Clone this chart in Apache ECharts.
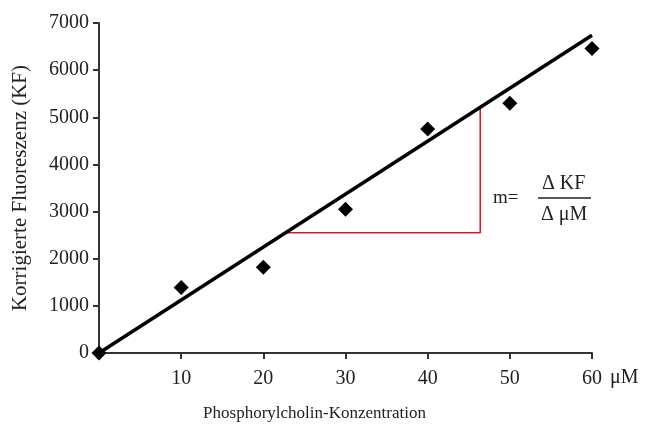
<!DOCTYPE html>
<html>
<head>
<meta charset="utf-8">
<script src="https://cdn.jsdelivr.net/npm/echarts@6/dist/echarts.min.js"></script>
<style>
  html, body { margin: 0; padding: 0; background: #fff; }
  #chart { width: 645px; height: 428px; }
</style>
</head>
<body>
<div id="chart"></div>
<script>
// Messpunkte
const konzentration = [0, 10, 20, 30, 40, 50, 60];
const fluoreszenz = [0, 1390, 1820, 3050, 4750, 5300, 6460];
// Regressionsgerade (Start- und Endpunkt)
const geradeX = [0, 60];
const geradeY = [0, 6740];
// Steigungsdreieck
const dreieckX = [22.8, 46.4, 46.4];
const dreieckY = [2550, 2550, 5180];

const font = '"Liberation Serif", "DejaVu Serif", serif';
const chart = echarts.init(document.getElementById('chart'));

const option = {
    animation: false,
    textStyle: { fontFamily: font },
    grid: { left: 99, right: 53, top: 23, bottom: 75 },
    xAxis: {
        type: 'value',
        min: 0,
        max: 60,
        interval: 10,
        name: 'Phosphorylcholin-Konzentration',
        nameLocation: 'middle',
        nameGap: 52,
        nameTextStyle: { fontFamily: font, fontSize: 17, color: '#222', padding: [0, 62, 0, 0] },
        axisLine: { lineStyle: { color: '#333', width: 2 } },
        axisTick: { length: 6, lineStyle: { color: '#333', width: 2 } },
        axisLabel: {
            fontFamily: font, fontSize: 20, color: '#222', margin: 16,
            formatter: v => (v === 0 ? '' : String(v))
        },
        splitLine: { show: false }
    },
    yAxis: {
        type: 'value',
        min: 0,
        max: 7000,
        interval: 1000,
        name: 'Korrigierte Fluoreszenz (KF)',
        nameLocation: 'middle',
        nameGap: 68,
        nameTextStyle: { fontFamily: font, fontSize: 21, color: '#222' },
        axisLine: { show: true, lineStyle: { color: '#333', width: 2 } },
        axisTick: { show: true, length: 6, lineStyle: { color: '#333', width: 2 } },
        axisLabel: {
            fontFamily: font, fontSize: 20, color: '#222', margin: 10,
            formatter: v => String(v)
        },
        splitLine: { show: false }
    },
    series: [
        {
            type: 'line',
            data: geradeX.map((x, i) => [x, geradeY[i]]),
            symbol: 'none',
            lineStyle: { color: '#000', width: 3.5 },
            z: 3
        },
        {
            type: 'line',
            data: dreieckX.map((x, i) => [x, dreieckY[i]]),
            symbol: 'none',
            lineStyle: { color: '#cc1f24', width: 1.6 },
            z: 2
        },
        {
            type: 'scatter',
            data: konzentration.map((x, i) => [x, fluoreszenz[i]]),
            symbol: 'diamond',
            symbolSize: [15, 15],
            itemStyle: { color: '#000', opacity: 1 },
            z: 4
        }
    ],
    graphic: [
        { type: 'text', left: 610, top: 368,
          style: { text: 'μM', font: '20px ' + font, fill: '#222' } },
        { type: 'text', left: 493, top: 189,
          style: { text: 'm=', font: '19px ' + font, fill: '#222' } },
        { type: 'text', left: 542, top: 174,
          style: { text: 'Δ KF', font: '20px ' + font, fill: '#222' } },
        { type: 'line', shape: { x1: 538, y1: 198, x2: 591, y2: 198 },
          style: { stroke: '#222', lineWidth: 1.5 } },
        { type: 'text', left: 541, top: 205,
          style: { text: 'Δ μM', font: '20px ' + font, fill: '#222' } }
    ]
};

chart.setOption(option);
</script>
</body>
</html>
